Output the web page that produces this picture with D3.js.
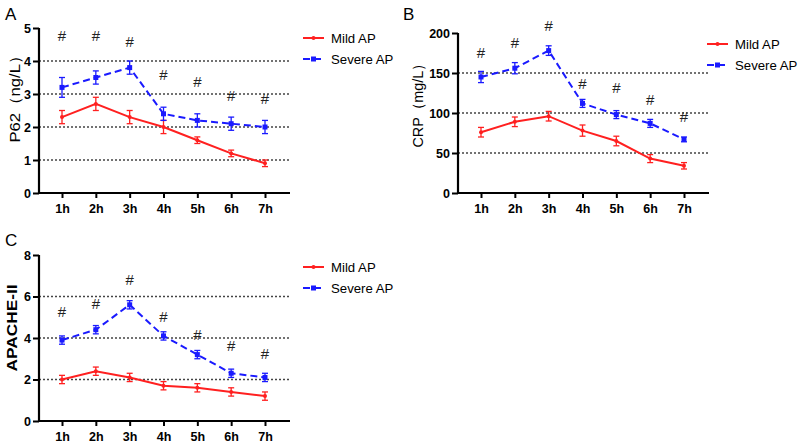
<!DOCTYPE html>
<html><head><meta charset="utf-8">
<script src="https://cdnjs.cloudflare.com/ajax/libs/d3/7.8.5/d3.min.js"></script>
<style>body{margin:0;background:#fff}svg{display:block;font-family:"Liberation Sans",Arial,sans-serif}</style>
</head><body><svg id="c" width="800" height="447"></svg>
<script>
const categories = ["1h","2h","3h","4h","5h","6h","7h"];
const seriesNames = ["Mild AP","Severe AP"];

const p62Mild = [2.3,2.7,2.3,2.0,1.6,1.2,0.9];
const p62MildErr = [0.2,0.2,0.2,0.2,0.1,0.1,0.1];
const p62Severe = [3.2,3.5,3.8,2.4,2.2,2.1,2.0];
const p62SevereErr = [0.3,0.2,0.2,0.2,0.2,0.2,0.2];
const p62Hash = [4.75,4.75,4.57,3.57,3.35,2.94,2.85];
const p62Ticks = [0,1,2,3,4,5];

const crpMild = [76,89,96,78,65,43,34];
const crpMildErr = [6,6,6,7,6,5,4];
const crpSevere = [145,156,178,112,98,87,67];
const crpSevereErr = [7,7,6,5,5,5,3];
const crpHash = [175,187,209,136,131,116,95];
const crpTicks = [0,50,100,150,200];

const apMild = [2.0,2.4,2.1,1.7,1.6,1.4,1.2];
const apMildErr = [0.2,0.2,0.2,0.2,0.2,0.2,0.2];
const apSevere = [3.9,4.4,5.6,4.1,3.2,2.3,2.1];
const apSevereErr = [0.2,0.2,0.2,0.2,0.2,0.2,0.2];
const apHash = [5.27,5.64,6.8,5.0,4.14,3.6,3.23];
const apTicks = [0,2,4,6,8];

const RED = "#ff2020", BLUE = "#1a1aff";
const svg = d3.select("#c");

function panel(o){
  const g = svg.append("g");
  const y = d3.scaleLinear().domain([0, o.ymax]).range([o.y0, o.y1]);
  const x = d3.scalePoint().domain(categories).range([o.x0 + 23, o.x0 + 226]);
  // panel letter
  g.append("text").attr("x", o.letterX).attr("y", o.letterY).attr("font-size", 17).text(o.letter);
  // grid
  g.selectAll(".grid").data(o.grid).enter().append("line")
    .attr("x1", o.x0).attr("x2", o.x0 + 251).attr("y1", d => y(d)).attr("y2", d => y(d))
    .attr("stroke", "#444").attr("stroke-width", 1.3).attr("stroke-dasharray", "2,2");
  // y axis
  const ya = g.append("g").attr("transform", `translate(${o.x0},0)`)
    .call(d3.axisLeft(y).tickValues(o.ticks).tickFormat(d3.format("d")).tickSize(6).tickPadding(2));
  ya.select(".domain").attr("stroke-width", 2.2).attr("d", `M0,${o.y0+1}V${o.y1}`);
  ya.selectAll(".tick line").attr("stroke-width", 2);
  ya.selectAll("text").attr("font-size", 12.5).attr("font-weight", "bold").attr("font-family", "Liberation Sans, Arial, sans-serif").attr("fill", "#000");
  // x axis
  const xa = g.append("g").attr("transform", `translate(0,${o.y0})`)
    .call(d3.axisBottom(x).tickSize(5).tickPadding(6));
  xa.select(".domain").attr("stroke-width", 2.2).attr("d", `M${o.x0},0H${o.x0 + 251}`);
  xa.selectAll(".tick line").attr("stroke-width", 2);
  xa.selectAll("text").attr("font-size", 12.5).attr("font-weight", "bold").attr("font-family", "Liberation Sans, Arial, sans-serif").attr("fill", "#000");
  // y title
  g.append("text").attr("transform", `translate(${o.x0 - o.titleOff},${o.titleY}) rotate(-90)`)
    .attr("text-anchor", "middle").attr("font-size", 15).attr("font-weight", o.titleBold ? "bold" : "normal")
    .attr("textLength", o.titleLen).attr("lengthAdjust", "spacingAndGlyphs")
    .text(o.title);
  const line = d3.line().x((d, i) => x(categories[i])).y(d => y(d));
  const series = [
    {v: o.mild, e: o.mildErr, c: RED, dash: null, sq: false},
    {v: o.severe, e: o.severeErr, c: BLUE, dash: "7,4", sq: true}
  ];
  series.forEach(s => {
    g.append("path").datum(s.v).attr("d", line).attr("fill", "none")
      .attr("stroke", s.c).attr("stroke-width", 2).attr("stroke-dasharray", s.dash);
    const eb = g.append("g").selectAll("g").data(s.v).enter().append("g");
    eb.append("line").attr("x1", (d,i) => x(categories[i])).attr("x2", (d,i) => x(categories[i]))
      .attr("y1", (d,i) => y(d + s.e[i])).attr("y2", (d,i) => y(d - s.e[i])).attr("stroke", s.c).attr("stroke-width", 1.3);
    [1,-1].forEach(sg => eb.append("line")
      .attr("x1", (d,i) => x(categories[i]) - 3).attr("x2", (d,i) => x(categories[i]) + 3)
      .attr("y1", (d,i) => y(d + sg*s.e[i])).attr("y2", (d,i) => y(d + sg*s.e[i]))
      .attr("stroke", s.c).attr("stroke-width", 1.3));
    if (s.sq) {
      eb.append("rect").attr("x", (d,i) => x(categories[i]) - 2.5).attr("y", d => y(d) - 2.5)
        .attr("width", 5).attr("height", 5).attr("fill", s.c);
    } else {
      eb.append("circle").attr("cx", (d,i) => x(categories[i])).attr("cy", d => y(d)).attr("r", 2).attr("fill", s.c);
    }
  });
  // hash marks
  g.selectAll(".hash").data(o.hash).enter().append("text")
    .attr("x", (d,i) => x(categories[i])).attr("y", d => y(d) + 5)
    .attr("text-anchor", "middle").attr("font-size", 15).attr("fill", "#222").text("#");
  // legend
  const lx = o.x0 + o.legendOff;
  series.forEach((s, i) => {
    const ly = o.legendY + i * 21;
    g.append("line").attr("x1", lx).attr("x2", lx + 21).attr("y1", ly).attr("y2", ly)
      .attr("stroke", s.c).attr("stroke-width", 2).attr("stroke-dasharray", s.dash);
    if (s.sq) g.append("rect").attr("x", lx + 8).attr("y", ly - 2.5).attr("width", 5).attr("height", 5).attr("fill", s.c);
    else g.append("circle").attr("cx", lx + 10.5).attr("cy", ly).attr("r", 2).attr("fill", s.c);
    g.append("text").attr("x", lx + 28).attr("y", ly + 5).attr("font-size", 13.2).text(seriesNames[i]);
  });
}

panel({letter:"A", letterX:5, letterY:20, x0:39, y0:193, y1:28, ymax:5, ticks:p62Ticks, grid:[1,2,3,4],
  title:"P62（ng/L）", titleY:95, titleOff:19, titleLen:95, titleBold:false,
  mild:p62Mild, mildErr:p62MildErr, severe:p62Severe, severeErr:p62SevereErr, hash:p62Hash,
  legendOff:264, legendY:38});
panel({letter:"B", letterX:403, letterY:20, x0:458, y0:193, y1:33, ymax:200, ticks:crpTicks, grid:[50,100,150],
  title:"CRP（mg/L）", titleY:102, titleOff:35, titleLen:91, titleBold:false,
  mild:crpMild, mildErr:crpMildErr, severe:crpSevere, severeErr:crpSevereErr, hash:crpHash,
  legendOff:249, legendY:44});
panel({letter:"C", letterX:5, letterY:246, x0:39, y0:421, y1:255, ymax:8, ticks:apTicks, grid:[2,4,6],
  title:"APACHE-II", titleY:328, titleOff:22, titleLen:87, titleBold:true,
  mild:apMild, mildErr:apMildErr, severe:apSevere, severeErr:apSevereErr, hash:apHash,
  legendOff:264, legendY:267});
</script></body></html>
